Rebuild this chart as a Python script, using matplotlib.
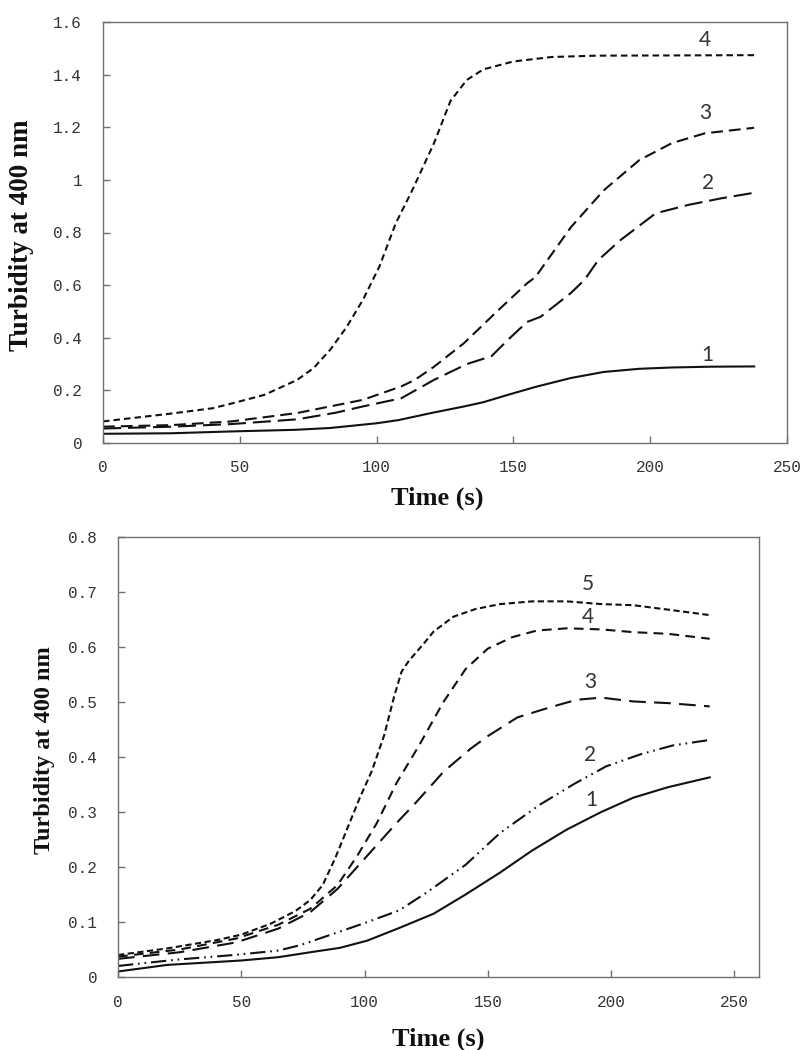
import matplotlib
matplotlib.use("Agg")
import matplotlib.pyplot as plt

# ---- data ----
# top panel (curves 1-4)
top_t1 = [0, 25, 47, 70, 83, 100, 108, 120, 132, 139, 148, 158, 171, 183, 196, 208, 222, 238]
top_y1 = [0.035, 0.037, 0.044, 0.050, 0.057, 0.075, 0.087, 0.114, 0.139, 0.155, 0.183, 0.213, 0.247, 0.270, 0.282, 0.287, 0.290, 0.291]

top_t2 = [0, 25, 47, 71, 85, 95, 109, 121, 133, 142, 148, 155, 160, 171, 176, 181, 189, 202, 214, 226, 238]
top_y2 = [0.055, 0.062, 0.072, 0.090, 0.115, 0.139, 0.170, 0.240, 0.300, 0.330, 0.392, 0.460, 0.480, 0.570, 0.620, 0.695, 0.770, 0.873, 0.905, 0.930, 0.951]

top_t3 = [0, 25, 47, 71, 95, 109, 114, 121, 132, 144, 155, 158, 171, 183, 196, 208, 220, 238]
top_y3 = [0.062, 0.068, 0.082, 0.114, 0.164, 0.215, 0.240, 0.290, 0.380, 0.500, 0.607, 0.630, 0.820, 0.960, 1.075, 1.140, 1.177, 1.198]

top_t4 = [0, 25, 40, 47, 59, 71, 77, 83, 89, 95, 101, 107, 113, 121, 127, 133, 139, 150, 164, 180, 238]
top_y4 = [0.082, 0.112, 0.132, 0.150, 0.183, 0.240, 0.285, 0.354, 0.440, 0.544, 0.670, 0.835, 0.960, 1.140, 1.300, 1.380, 1.420, 1.450, 1.467, 1.472, 1.474]

# bottom panel (curves 1-5)
bot_t1 = [0, 10, 20, 35, 50, 65, 78, 90, 101, 114, 128, 141, 155, 168, 182, 196, 209, 223, 240]
bot_y1 = [0.010, 0.016, 0.022, 0.026, 0.030, 0.036, 0.045, 0.053, 0.066, 0.089, 0.115, 0.150, 0.190, 0.230, 0.268, 0.300, 0.326, 0.345, 0.363]

bot_t2 = [0, 10, 25, 47, 65, 74, 87, 100, 114, 125, 141, 155, 171, 185, 198, 212, 225, 240]
bot_y2 = [0.020, 0.025, 0.032, 0.040, 0.048, 0.058, 0.078, 0.098, 0.121, 0.153, 0.204, 0.262, 0.313, 0.351, 0.383, 0.405, 0.421, 0.431]

bot_t3 = [0, 25, 48, 65, 78, 89, 100, 113, 121, 132, 143, 150, 162, 175, 186, 196, 209, 223, 240]
bot_y3 = [0.033, 0.045, 0.063, 0.088, 0.118, 0.160, 0.215, 0.280, 0.318, 0.373, 0.415, 0.438, 0.472, 0.490, 0.504, 0.508, 0.501, 0.498, 0.492]

bot_t4 = [0, 25, 48, 65, 78, 89, 97, 105, 113, 122, 132, 141, 150, 160, 170, 182, 196, 209, 223, 240]
bot_y4 = [0.037, 0.050, 0.070, 0.095, 0.124, 0.167, 0.220, 0.280, 0.353, 0.420, 0.500, 0.560, 0.597, 0.618, 0.630, 0.634, 0.632, 0.627, 0.624, 0.615]

bot_t5 = [0, 20, 40, 50, 62, 72, 78, 83, 88, 93, 98, 103, 108, 112, 115, 118, 124, 128, 136, 145, 155, 168, 182, 196, 209, 223, 240]
bot_y5 = [0.040, 0.052, 0.067, 0.077, 0.097, 0.120, 0.140, 0.167, 0.215, 0.270, 0.325, 0.375, 0.440, 0.510, 0.555, 0.575, 0.606, 0.628, 0.655, 0.669, 0.678, 0.683, 0.683, 0.678, 0.676, 0.668, 0.658]

top_labels = ["1", "2", "3", "4"]
top_label_x = [221, 221, 220, 220]
top_label_y = [0.335, 0.99, 1.254, 1.53]

bot_labels = ["1", "2", "3", "4", "5"]
bot_label_x = [192, 191.5, 191.5, 190.7, 190.7]
bot_label_y = [0.322, 0.403, 0.537, 0.654, 0.715]

plt.rcParams['lines.scale_dashes'] = False

LINE = '#111111'
FRAME = '#707070'
TICKTXT = '#333333'
LW = 1.5
W, H = 801, 1050

fig = plt.figure(figsize=(W / 100, H / 100), dpi=100)
# axes boxes in pixels: left, top, right, bottom
ax1 = fig.add_axes([103 / W, 1 - 443 / H, 684 / W, 421 / H])
ax2 = fig.add_axes([118 / W, 1 - 977 / H, 641 / W, 440 / H])


def style_axes(ax):
    for sp in ax.spines.values():
        sp.set_color(FRAME)
        sp.set_linewidth(1.0)
    ax.tick_params(direction='in', length=5, width=1, color=FRAME,
                   labelcolor=TICKTXT, labelsize=11.5)
    ax.tick_params(axis='y', pad=15)
    ax.tick_params(axis='x', pad=12)
    for lab in ax.get_xticklabels() + ax.get_yticklabels():
        lab.set_family('Liberation Mono')


def fig_label(x, y, text, size, rot=0):
    fig.text(x / W, 1 - y / H, text, family='Liberation Serif', fontweight='bold',
             fontsize=size, rotation=rot, ha='center', va='center', color='#111111')


# top panel
ax1.plot(top_t1, top_y1, color=LINE, lw=LW)
ax1.plot(top_t2, top_y2, color=LINE, lw=LW, dashes=(13, 5))
ax1.plot(top_t3, top_y3, color=LINE, lw=LW, dashes=(8.5, 4.3))
ax1.plot(top_t4, top_y4, color=LINE, lw=LW, dashes=(4.7, 2.9))
ax1.set_xlim(0, 250)
ax1.set_ylim(0, 1.6)
yt1 = [0, 0.2, 0.4, 0.6, 0.8, 1.0, 1.2, 1.4, 1.6]
ax1.set_yticks(yt1)
ax1.set_yticklabels([f"{v:g}" for v in yt1])
ax1.set_xticks([0, 50, 100, 150, 200, 250])
style_axes(ax1)
for lab, x, y in zip(top_labels, top_label_x, top_label_y):
    ax1.text(x, y, lab, family='Lato', fontsize=15, color='#333333', ha='center', va='center')
fig_label(437, 498, 'Time (s)', 19)
fig_label(22, 235, 'Turbidity at 400 nm', 19.5, rot=90)

# bottom panel
ax2.plot(bot_t1, bot_y1, color=LINE, lw=LW)
ax2.plot(bot_t2, bot_y2, color=LINE, lw=LW, dashes=(11, 3.5, 1.2, 3.5, 1.2, 3.5))
ax2.plot(bot_t3, bot_y3, color=LINE, lw=LW, dashes=(12, 6))
ax2.plot(bot_t4, bot_y4, color=LINE, lw=LW, dashes=(7, 4.5))
ax2.plot(bot_t5, bot_y5, color=LINE, lw=LW, dashes=(4.5, 2.5))
ax2.set_xlim(0, 260)
ax2.set_ylim(0, 0.8)
yt2 = [0, 0.1, 0.2, 0.3, 0.4, 0.5, 0.6, 0.7, 0.8]
ax2.set_yticks(yt2)
ax2.set_yticklabels([f"{v:g}" for v in yt2])
ax2.set_xticks([0, 50, 100, 150, 200, 250])
style_axes(ax2)
ax2.tick_params(axis='x', pad=13)
for lab, x, y in zip(bot_labels, bot_label_x, bot_label_y):
    ax2.text(x, y, lab, family='Lato', fontsize=15, color='#333333', ha='center', va='center')
fig_label(438, 1039, 'Time (s)', 19)
fig_label(45, 750, 'Turbidity at 400 nm', 17.5, rot=90)

fig.savefig('out.png', dpi=100)
